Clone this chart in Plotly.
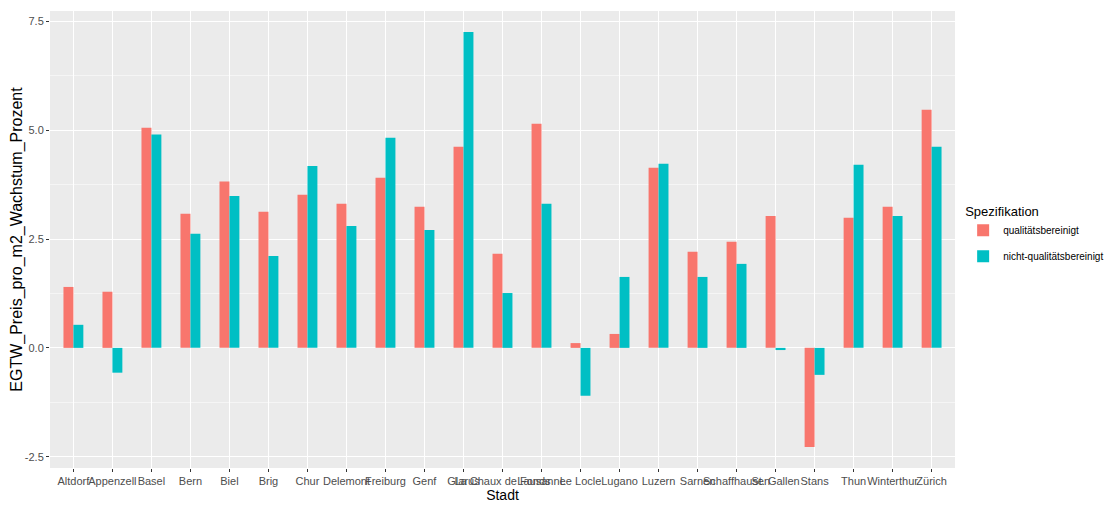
import plotly.graph_objects as go

staedte = ["Altdorf", "Appenzell", "Basel", "Bern", "Biel", "Brig", "Chur", "Delemont",
           "Freiburg", "Genf", "Glarus", "La Chaux de Fonds", "Lausanne", "Le Locle",
           "Lugano", "Luzern", "Sarnen", "Schaffhausen", "St. Gallen", "Stans", "Thun",
           "Winterthur", "Zürich"]

qualitaet = [1.40, 1.29, 5.06, 3.08, 3.82, 3.13, 3.52, 3.31, 3.91, 3.24, 4.62, 2.16,
             5.15, 0.11, 0.32, 4.14, 2.21, 2.44, 3.03, -2.28, 2.99, 3.24, 5.47]
nicht_qualitaet = [0.53, -0.57, 4.90, 2.62, 3.49, 2.11, 4.18, 2.80, 4.83, 2.71, 7.26, 1.26,
                   3.31, -1.10, 1.63, 4.23, 1.63, 1.93, -0.05, -0.62, 4.21, 3.03, 4.62]

y_ticks = [-2.5, 0.0, 2.5, 5.0, 7.5]
y_ticktext = ["-2.5", "0.0", "2.5", "5.0", "7.5"]

fig = go.Figure()
fig.add_trace(go.Bar(x=staedte, y=qualitaet, name="qualitätsbereinigt", legendgroup="q",
                     marker=dict(color="#F8766D", line=dict(width=0))))
fig.add_trace(go.Bar(x=staedte, y=nicht_qualitaet, name="nicht-qualitätsbereinigt",
                     legendgroup="nq", marker=dict(color="#00BFC4", line=dict(width=0))))

# page body has an 8px margin, so the margins are shifted by that much
fig.update_layout(
    width=1114, height=506,
    barmode="group", bargap=0.49, bargroupgap=0,
    plot_bgcolor="#EBEBEB", paper_bgcolor="white",
    margin=dict(l=42, r=167, t=3, b=46, autoexpand=False),
    font=dict(family="Liberation Sans, Arial", color="black"),
    legend=dict(title=dict(text="Spezifikation", font=dict(size=13)),
                x=1.009, xanchor="left", y=0.51, yanchor="middle",
                font=dict(size=10), bgcolor="rgba(0,0,0,0)", itemsizing="constant",
                itemwidth=30, tracegroupgap=7),
)
fig.update_xaxes(
    title=dict(text="Stadt", font=dict(size=14), standoff=2),
    range=[-0.6, 22.6], tickangle=0, tickfont=dict(size=11, color="#4D4D4D"),
    showgrid=True, gridcolor="white", gridwidth=1.1, automargin=False,
    ticks="outside", ticklen=3, tickcolor="#333333", zeroline=False,
)
fig.update_yaxes(
    title=dict(text="EGTW_Preis_pro_m2_Wachstum_Prozent", font=dict(size=16), standoff=4),
    range=[-2.76, 7.74], tickvals=y_ticks, ticktext=y_ticktext,
    tickfont=dict(size=11, color="#4D4D4D"), automargin=False,
    showgrid=True, gridcolor="white", gridwidth=1.1,
    minor=dict(dtick=1.25, tick0=0, showgrid=True, gridcolor="#F5F5F5", gridwidth=0.6),
    ticks="outside", ticklen=3, tickcolor="#333333", zeroline=False,
)

fig.write_html("out.html")
